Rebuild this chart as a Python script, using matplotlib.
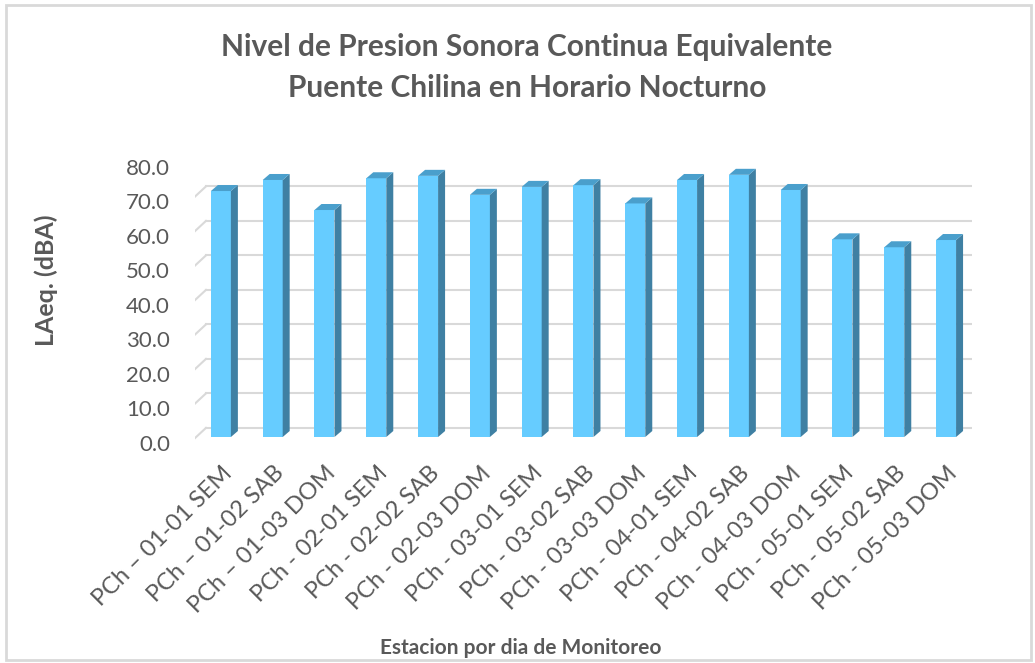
import matplotlib.pyplot as plt
import matplotlib.transforms as mtransforms
from matplotlib.patches import Polygon, Rectangle

plt.rcParams['font.family'] = ['Lato', 'DejaVu Sans']

estaciones = ['PCh – 01-01 SEM', 'PCh – 01-02 SAB', 'PCh – 01-03 DOM',
              'PCh - 02-01 SEM', 'PCh - 02-02 SAB', 'PCh - 02-03 DOM',
              'PCh - 03-01 SEM', 'PCh - 03-02 SAB', 'PCh - 03-03 DOM',
              'PCh - 04-01 SEM', 'PCh - 04-02 SAB', 'PCh - 04-03 DOM',
              'PCh - 05-01 SEM', 'PCh - 05-02 SAB', 'PCh - 05-03 DOM']
laeq = [71.3, 74.5, 65.8, 75.0, 75.7, 70.2, 72.5, 73.0, 67.7,
        74.5, 76.0, 71.6, 57.3, 55.0, 57.1]
yticks = [0, 10, 20, 30, 40, 50, 60, 70, 80]

gray = '#595959'
front = '#66CCFF'
side = '#3F80A3'
top = '#4A9FCC'

fig = plt.figure(figsize=(10.35, 6.63), dpi=100)
fig.patches.append(Rectangle((0.006, 0.004), 0.99, 0.988, transform=fig.transFigure,
                             fill=False, edgecolor='#d9d9d9', lw=2))

ax = fig.add_axes([0.1884, 0.332, 0.7507, 0.4163])
ax.set_xlim(-0.5, 14.5)
ax.set_ylim(0, 80)
for s in ax.spines.values():
    s.set_visible(False)

# back-wall gridlines + side-wall diagonals (pseudo 3D like Excel)
back = ax.transData + mtransforms.ScaledTranslation(11 / 100, 15 / 100, fig.dpi_scale_trans)
for t in yticks:
    ax.plot([-0.5, 14.5], [t, t], color='#d9d9d9', lw=1.5, transform=back, zorder=0)
    x0, y0 = ax.transData.transform((-0.6, t))
    x1, y1 = back.transform((-0.5, t))
    ax.plot([x0, x1], [y0, y1], color='#d9d9d9', lw=1.5,
            transform=None, zorder=0)

# bars: front face, side and top
base = 1.7
w = 0.386
dx = 0.135
dy = 1.74
xs = list(range(len(laeq)))
ax.bar(xs, laeq, width=w, bottom=base, color=front, zorder=3)
for x, v in zip(xs, laeq):
    xl, xr = x - w / 2, x + w / 2
    ax.add_patch(Polygon([(xr, base), (xr + dx, base + dy), (xr + dx, base + v + dy), (xr, base + v)],
                         closed=True, facecolor=side, edgecolor='none', zorder=3))
    ax.add_patch(Polygon([(xl, base + v), (xr, base + v), (xr + dx, base + v + dy), (xl + dx, base + v + dy)],
                         closed=True, facecolor=top, edgecolor='none', zorder=3))

ax.set_yticks(yticks)
ax.set_yticklabels([f'{t:.1f}' for t in yticks], fontsize=16, color=gray)
ax.set_xticks(xs)
ax.set_xticklabels(estaciones, rotation=45, ha='right', va='top',
                   rotation_mode='anchor', fontsize=17, color=gray)
ax.tick_params(axis='both', length=0)
ax.tick_params(axis='y', pad=18)
ax.tick_params(axis='x', pad=14)

fig.text(0.045, 0.578, 'LAeq. (dBA)', rotation=90, ha='center', va='center',
         fontsize=18, fontweight='bold', color=gray)
fig.text(0.503, 0.022, 'Estacion por dia de Monitoreo', ha='center', va='center',
         fontsize=15, fontweight='bold', color=gray)
fig.text(0.509, 0.929, 'Nivel de Presion Sonora Continua Equivalente', ha='center', va='center',
         fontsize=21.5, fontweight='bold', color=gray)
fig.text(0.509, 0.867, 'Puente Chilina en Horario Nocturno', ha='center', va='center',
         fontsize=21.5, fontweight='bold', color=gray)

fig.savefig('out.png', dpi=100)
